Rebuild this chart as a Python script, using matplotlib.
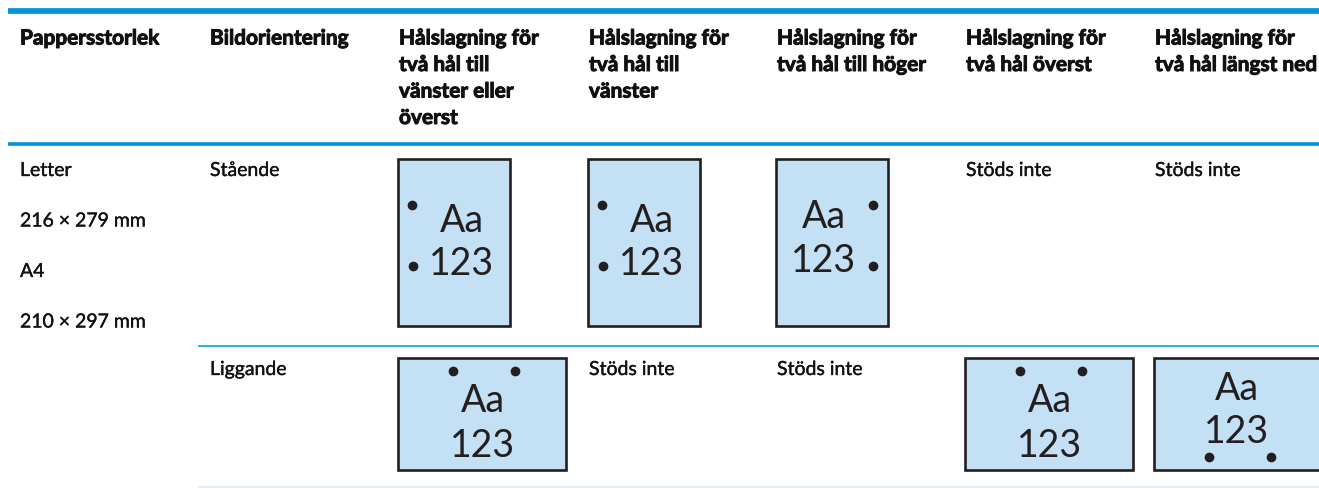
import matplotlib
matplotlib.use("Agg")
import matplotlib.pyplot as plt
import matplotlib.patheffects as pe
from matplotlib.patches import Rectangle

# ---------------- data ----------------
headers = [
    "Pappersstorlek",
    "Bildorientering",
    "Hålslagning för\ntvå hål till\nvänster eller\növerst",
    "Hålslagning för\ntvå hål till\nvänster",
    "Hålslagning för\ntvå hål till höger",
    "Hålslagning för\ntvå hål överst",
    "Hålslagning för\ntvå hål längst ned",
]
paper_sizes = ["Letter", "216 × 279 mm", "A4", "210 × 297 mm"]
orientations = ["Stående", "Liggande"]
portrait_cells = ["left", "left", "right", "none", "none"]
landscape_cells = ["top", "none", "none", "top", "bottom"]
not_supported = "Stöds inte"
sample_text = ["Aa", "123"]

# ---------------- style ----------------
plt.rcParams['font.family'] = ['Lato', 'DejaVu Sans']
BLUE = "#0096D6"
TXT = "#111111"
FILL = "#C3E0F4"
EDGE = "#231F20"

W, H = 1319, 489
fig = plt.figure(figsize=(W / 100, H / 100), dpi=100)
ax = fig.add_axes([0, 0, 1, 1])
ax.set_xlim(0, W)
ax.set_ylim(H, 0)
ax.axis('off')

col_left = [8, 198, 387, 577, 765, 954, 1143]
pad = 12

# header rules
ax.plot([8, W], [8.5, 8.5], color="#E3ECF3", lw=0.8, solid_capstyle='butt')
ax.plot([8, W], [12.2, 12.2], color=BLUE, lw=4.1, solid_capstyle='butt')
ax.plot([8, W], [145, 145], color=BLUE, lw=2.6, solid_capstyle='butt')
ax.plot([198, W], [347, 347], color=BLUE, lw=1.1, solid_capstyle='butt')
ax.plot([198, W], [488, 488], color="#DCEAF6", lw=1.2, solid_capstyle='butt')

# header text
bold_fx = [pe.withStroke(linewidth=0.7, foreground=TXT)]
for c, htxt in enumerate(headers):
    for i, line in enumerate(htxt.split("\n")):
        ax.text(col_left[c] + pad, 45.5 + 26.5 * i, line, fontsize=15,
                fontweight='bold', color=TXT, ha='left', va='baseline',
                path_effects=bold_fx)

body_fx = [pe.withStroke(linewidth=0.25, foreground=TXT)]
# paper sizes
for i, s in enumerate(paper_sizes):
    ax.text(col_left[0] + pad, 177 + 50.5 * i, s, fontsize=14,
            color=TXT, ha='left', va='baseline', path_effects=body_fx)

row_top = [160, 359]
for r, o in enumerate(orientations):
    ax.text(col_left[1] + pad, row_top[r] + 17, o, fontsize=14,
            color=TXT, ha='left', va='baseline', path_effects=body_fx)


def draw_page(x, y, kind, landscape):
    if landscape:
        w, h = 168, 112
    else:
        w, h = 112, 167
    ax.add_patch(Rectangle((x, y), w, h, facecolor=FILL, edgecolor=EDGE,
                           lw=1.9, joinstyle='miter'))
    if kind == "left":
        dots = [(x + 14, y + 46), (x + 15, y + 107)]
        cx, b1, b2 = x + 64, y + 72, y + 115
    elif kind == "right":
        dots = [(x + 97, y + 46), (x + 97, y + 107)]
        cx, b1, b2 = x + 48, y + 68, y + 112
    elif kind == "top":
        dots = [(x + 55, y + 13), (x + 117, y + 13)]
        cx, b1, b2 = x + 85, y + 53, y + 98
    else:
        dots = [(x + 55, y + 99), (x + 117, y + 99)]
        cx, b1, b2 = x + 83, y + 41, y + 84
    for dx, dy in dots:
        ax.plot(dx, dy, 'o', color=EDGE, markersize=7, markeredgewidth=0)
    ax.text(cx, b1, sample_text[0], fontsize=27, color=EDGE, ha='center', va='baseline')
    ax.text(cx, b2, sample_text[1], fontsize=27, color=EDGE, ha='center', va='baseline')


for r, cells in enumerate([portrait_cells, landscape_cells]):
    for j, kind in enumerate(cells):
        x = col_left[j + 2] + pad
        if kind == "none":
            ax.text(x, row_top[r] + 17, not_supported, fontsize=14,
                    color=TXT, ha='left', va='baseline', path_effects=body_fx)
        else:
            draw_page(x - 1, row_top[r], kind, landscape=(r == 1))

fig.savefig("out.png", dpi=100)
